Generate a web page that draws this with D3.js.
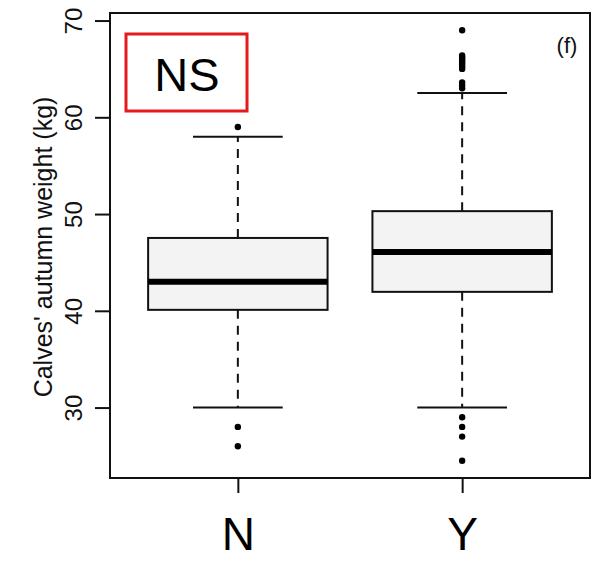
<!DOCTYPE html>
<html><head><meta charset="utf-8">
<script src="https://cdn.jsdelivr.net/npm/d3@7"></script>
<style>body{margin:0;background:#fff}svg{display:block}text{font-family:"Liberation Sans",Arial,sans-serif}</style>
</head><body><svg id="c" width="592" height="561"></svg>
<script>
const categories = ["N", "Y"];
const q1 = [40.1, 41.96];
const medians = [43.0, 46.08];
const q3 = [47.53, 50.3];
const whiskerLow = [30, 30];
const whiskerHigh = [58, 62.5];
const outliersN = [59, 28, 26];
const outliersY = [69.0, 66.4, 66.2, 66.0, 65.8, 65.6, 65.4, 65.2, 65.0, 63.6, 63.3, 63.0, 29.0, 28.0, 27.0, 24.5];
const outliers = [outliersN, outliersY];
const yTicks = [30, 40, 50, 60, 70];
const yTitle = "Calves' autumn weight (kg)";
const panelLabel = "(f)";
const sigLabel = "NS";

const svg = d3.select("#c");
const L = 110, R = 590, T = 13, B = 478;
const x = d3.scaleLinear().domain([0.43, 2.57]).range([L, R]);
const y = d3.scaleLinear().domain([22.72, 70.78]).range([B, T]);
const bw = 0.4;

categories.forEach((c, i) => {
  const cx = i + 1;
  const g = svg.append("g");
  g.append("line").attr("x1", x(cx)).attr("x2", x(cx)).attr("y1", y(q3[i])).attr("y2", y(whiskerHigh[i]))
    .attr("stroke", "#111").attr("stroke-width", 2).attr("stroke-dasharray", "9,7");
  g.append("line").attr("x1", x(cx)).attr("x2", x(cx)).attr("y1", y(q1[i])).attr("y2", y(whiskerLow[i]))
    .attr("stroke", "#111").attr("stroke-width", 2).attr("stroke-dasharray", "9,7");
  [whiskerHigh[i], whiskerLow[i]].forEach(v => {
    g.append("line").attr("x1", x(cx - bw / 2)).attr("x2", x(cx + bw / 2)).attr("y1", y(v)).attr("y2", y(v))
      .attr("stroke", "#111").attr("stroke-width", 2);
  });
  g.append("rect").attr("x", x(cx - bw)).attr("width", x(cx + bw) - x(cx - bw))
    .attr("y", y(q3[i])).attr("height", y(q1[i]) - y(q3[i]))
    .attr("fill", "#f3f3f3").attr("stroke", "#111").attr("stroke-width", 2);
  g.append("line").attr("x1", x(cx - bw)).attr("x2", x(cx + bw)).attr("y1", y(medians[i])).attr("y2", y(medians[i]))
    .attr("stroke", "#000").attr("stroke-width", 6);
  g.selectAll("circle").data(outliers[i]).join("circle")
    .attr("cx", x(cx)).attr("cy", d => y(d)).attr("r", 3.2).attr("fill", "#000");
});

svg.append("rect").attr("x", L).attr("y", T).attr("width", R - L).attr("height", B - T)
  .attr("fill", "none").attr("stroke", "#111").attr("stroke-width", 2);

const ya = svg.append("g").attr("transform", `translate(${L},0)`)
  .call(d3.axisLeft(y).tickValues(yTicks).tickSize(15).tickPadding(0));
ya.select(".domain").remove();
ya.selectAll(".tick line").attr("stroke", "#111").attr("stroke-width", 2);
ya.selectAll(".tick text").attr("transform", "rotate(-90)").attr("x", 0).attr("y", -28).attr("dy", 0)
  .attr("text-anchor", "middle").attr("font-size", 24).attr("fill", "#111")
  .style("font-family", "Liberation Sans, Arial, sans-serif");

const xa = svg.append("g").attr("transform", `translate(0,${B})`)
  .call(d3.axisBottom(x).tickValues([1, 2]).tickFormat((d) => categories[d - 1]).tickSize(15));
xa.select(".domain").remove();
xa.selectAll(".tick line").attr("stroke", "#111").attr("stroke-width", 2);
xa.selectAll(".tick text").attr("y", 72).attr("dy", 0).attr("font-size", 46).attr("fill", "#000")
  .style("font-family", "Liberation Sans, Arial, sans-serif");

svg.append("text").attr("transform", `translate(52,247) rotate(-90)`).attr("text-anchor", "middle")
  .attr("font-size", 25).attr("fill", "#111").text(yTitle);

svg.append("text").attr("x", 567).attr("y", 53).attr("text-anchor", "middle")
  .attr("font-size", 22).attr("fill", "#111").text(panelLabel);

svg.append("rect").attr("x", 126).attr("y", 34).attr("width", 121).attr("height", 77)
  .attr("fill", "none").attr("stroke", "#e31b1b").attr("stroke-width", 3);
svg.append("text").attr("x", 187).attr("y", 91).attr("text-anchor", "middle")
  .attr("font-size", 47).attr("fill", "#000").text(sigLabel);
</script></body></html>
